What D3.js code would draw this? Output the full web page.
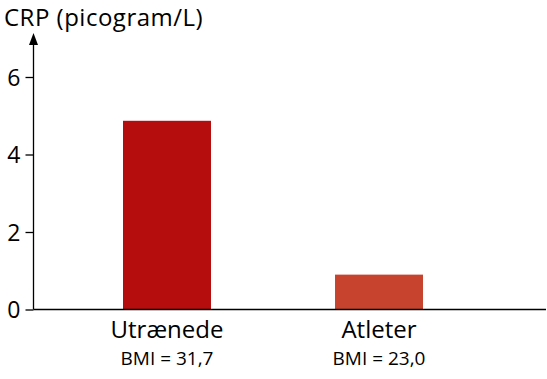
<!DOCTYPE html>
<html><head><meta charset="utf-8">
<script src="https://cdn.jsdelivr.net/npm/d3@7"></script>
<style>body{margin:0;background:#fff}svg{display:block}text{font-family:"Open Sans",sans-serif;fill:#000}</style>
</head><body><svg id="c" width="547" height="379"></svg>
<script>
const categories = ["Utrænede", "Atleter"];
const subLabels = ["BMI = 31,7", "BMI = 23,0"];
const values = [4.87, 0.9];
const colors = ["#B50D0E", "#C8432E"];
const yTicks = [0, 2, 4, 6];
const yTitle = "CRP (picogram/L)";

const svg = d3.select("#c");
const y = d3.scaleLinear().domain([0, 6]).range([309.5, 77]);
const x = d3.scaleBand().domain(categories).range([33, 513]).paddingInner(0.585).paddingOuter(0.4245);

svg.selectAll("rect.bar").data(values).join("rect")
  .attr("x", (d, i) => x(categories[i]))
  .attr("width", x.bandwidth())
  .attr("y", d => y(d))
  .attr("height", d => y(0) - y(d))
  .attr("fill", (d, i) => colors[i]);

// y axis
const ax = 33.5;
svg.append("line").attr("x1", ax).attr("x2", ax).attr("y1", 42).attr("y2", y(0)).attr("stroke", "#000").attr("stroke-width", 1.3);
svg.append("path").attr("d", `M${ax},33 L${ax-4.5},45 L${ax+4.5},45 Z`).attr("fill", "#000");
const ya = svg.append("g").attr("transform", `translate(${ax},0)`)
  .call(d3.axisLeft(y).tickValues(yTicks).tickSize(8).tickPadding(5).tickFormat(d3.format("d")));
ya.select(".domain").remove();
ya.selectAll("line").attr("stroke", "#000").attr("stroke-width", 1.3);
ya.selectAll("text").style("font-size", "23px").style("font-family", "'Open Sans',sans-serif").attr("dy", "0.36em");

// x axis
svg.append("line").attr("x1", ax).attr("x2", 546).attr("y1", y(0)).attr("y2", y(0)).attr("stroke", "#000").attr("stroke-width", 1.3);

// category labels
svg.selectAll("text.cat").data(categories).join("text")
  .attr("x", d => x(d) + x.bandwidth() / 2).attr("y", 338)
  .attr("text-anchor", "middle").style("font-size", "24px").text(d => d);
svg.selectAll("text.sub").data(subLabels).join("text")
  .attr("x", (d, i) => x(categories[i]) + x.bandwidth() / 2).attr("y", 365)
  .attr("text-anchor", "middle").style("font-size", "19px").text(d => d);

svg.append("text").attr("x", 4).attr("y", 26).style("font-size", "24px").style("letter-spacing", "0.5px").text(yTitle);
</script></body></html>
